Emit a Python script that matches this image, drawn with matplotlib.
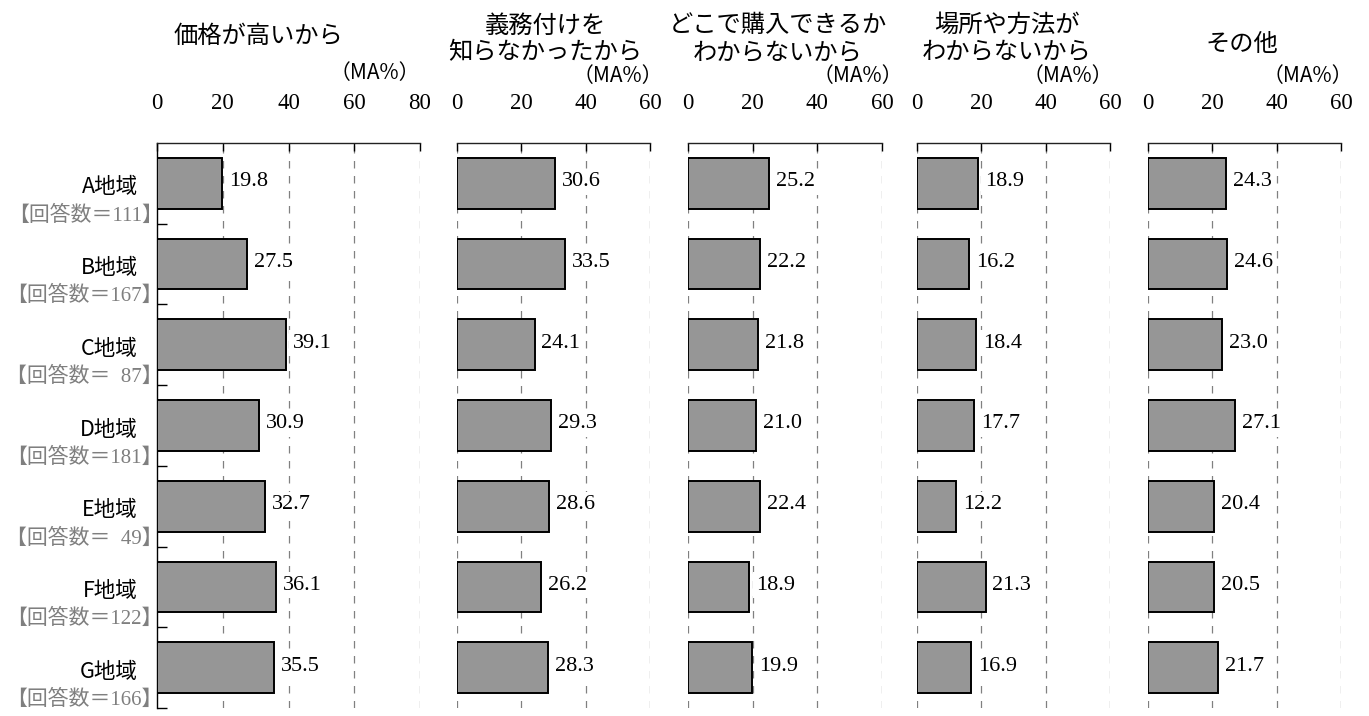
import matplotlib
matplotlib.use("Agg")
import matplotlib.pyplot as plt

plt.rcParams["font.family"] = ["Noto Sans CJK JP", "DejaVu Sans"]
SERIF = ["Liberation Serif", "DejaVu Serif", "Noto Sans CJK JP"]

# --- data -------------------------------------------------------------
regions = ["A地域", "B地域", "C地域", "D地域", "E地域", "F地域", "G地域"]
counts = [111, 167, 87, 181, 49, 122, 166]

titles = [
    "価格が高いから",
    "義務付けを\n知らなかったから",
    "どこで購入できるか\nわからないから",
    "場所や方法が\nわからないから",
    "その他",
]
axis_max = [80, 60, 60, 60, 60]

price_high = [19.8, 27.5, 39.1, 30.9, 32.7, 36.1, 35.5]
unaware_of_duty = [30.6, 33.5, 24.1, 29.3, 28.6, 26.2, 28.3]
unknown_where_to_buy = [25.2, 22.2, 21.8, 21.0, 22.4, 18.9, 19.9]
unknown_place_method = [18.9, 16.2, 18.4, 17.7, 12.2, 21.3, 16.9]
other_reason = [24.3, 24.6, 23.0, 27.1, 20.4, 20.5, 21.7]
series = [price_high, unaware_of_duty, unknown_where_to_buy,
          unknown_place_method, other_reason]

# --- layout (pixels) ----------------------------------------------------
W, H = 1369, 716
left_px = [157, 457, 688, 917, 1148]
right_px = [420, 650, 882, 1110, 1341]
top_px, bottom_px = 143, 708
title_x = [258, 545, 778, 1007, 1242]
title_y = [36, 39, 39, 38, 44]
unit_right = [420, 663, 903, 1113, 1353]
unit_y = [73, 76, 76, 76, 76]

fig = plt.figure(figsize=(W / 100, H / 100), dpi=100)
fig.patch.set_facecolor("white")

n = len(regions)
ypos = [i + 0.5 for i in range(n)]
label_box = dict(boxstyle="square,pad=0.15", fc="white", ec="none")

for k, vals in enumerate(series):
    l, r = left_px[k], right_px[k]
    ax = fig.add_axes([l / W, 1 - bottom_px / H, (r - l) / W, (bottom_px - top_px) / H])
    xm = axis_max[k]
    ax.set_xlim(0, xm)
    ax.set_ylim(n, 0)

    ticks = list(range(0, xm + 1, 20))
    for t in ticks:
        if k == 0 and t == 0:
            continue
        ax.axvline(t, color="#808080", lw=0.9, ls=(0, (6, 6)), zorder=1)

    ax.barh(ypos, vals, height=0.63, color="#969696", edgecolor="black",
            linewidth=1.4, zorder=3)
    for y, v in zip(ypos, vals):
        ax.annotate(f"{v:.1f}", xy=(v, y - 0.02), xytext=(5, 0),
                    textcoords="offset points", ha="left", va="center",
                    fontsize=16, family=SERIF, zorder=4, bbox=label_box)

    for side in ("right", "bottom"):
        ax.spines[side].set_visible(False)
    ax.spines["top"].set_color("#222222")
    ax.spines["top"].set_linewidth(1.0)
    ax.spines["left"].set_visible(k == 0)
    ax.spines["left"].set_linewidth(1.0)

    ax.xaxis.tick_top()
    ax.set_xticks(ticks)
    ax.set_xticklabels([str(t) for t in ticks], family=SERIF, fontsize=16.5)
    ax.tick_params(axis="x", direction="in", length=6, width=1.0, pad=21,
                   colors="black")

    if k == 0:
        ax.set_yticks(range(1, n + 1))
        ax.set_yticklabels([])
        ax.tick_params(axis="y", direction="in", length=7, width=1.0)
        for y, name, c in zip(ypos, regions, counts):
            ax.annotate(name, xy=(0, y + 0.05), xytext=(-14, 0),
                        textcoords="offset points", ha="right", va="center",
                        fontsize=15.5, annotation_clip=False)
            label = "【回答数＝" + f"{c:>3}".replace(" ", "\u2007") + "】"
            ax.annotate(label, xy=(0, y + 0.4), xytext=(4, 0),
                        textcoords="offset points", ha="right", va="center",
                        fontsize=15, color="#7f7f7f", family=SERIF,
                        annotation_clip=False)
    else:
        ax.set_yticks([])

    fig.text(title_x[k] / W, 1 - title_y[k] / H, titles[k], ha="center",
             va="center", fontsize=17.5, linespacing=1.05)
    fig.text(unit_right[k] / W, 1 - unit_y[k] / H, "（MA%）", ha="right",
             va="center", fontsize=15)

fig.savefig("out.png", dpi=100, facecolor="white")
